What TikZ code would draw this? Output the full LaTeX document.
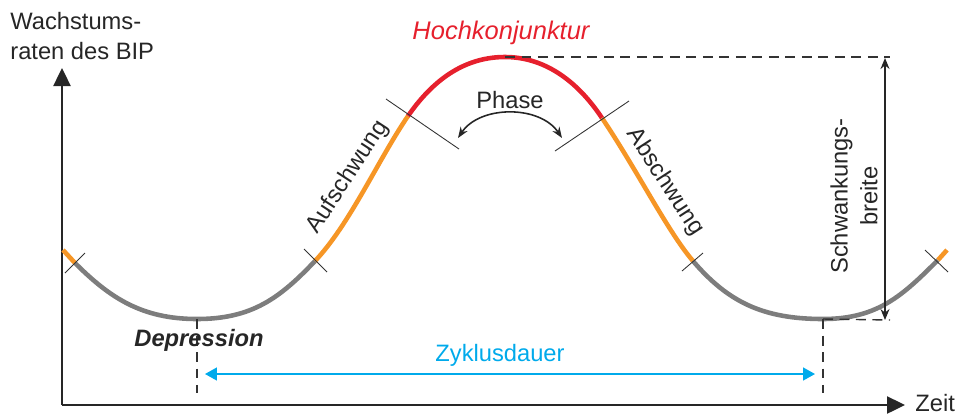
\documentclass[tikz,border=0pt]{standalone}
\usepackage{fontspec}
\setmainfont{Liberation Sans}
\usepackage{tikz}
\usetikzlibrary{arrows.meta}
\definecolor{upswing}{RGB}{246,150,38}
\definecolor{boomred}{RGB}{230,32,45}
\definecolor{troughgray}{RGB}{125,125,125}
\definecolor{cycleblue}{RGB}{0,170,235}
\newcommand{\lblsize}{\fontsize{13.5}{17}\selectfont}

\begin{document}
\begin{tikzpicture}[
    x=0.02cm, y=-0.02cm,
    every node/.style={font=\lblsize, text=black!85},
    curve/.style={line width=2.6pt},
    axis/.style={line width=1.4pt, black!85, -{Triangle[length=3.6mm, width=3.4mm]}},
    tick/.style={line width=0.5pt, black!80},
    guide/.style={line width=0.8pt, black!80, dash pattern=on 2mm off 1.3mm},
    span/.style={line width=0.8pt, black!85, {Stealth[length=2.2mm, width=1.8mm]}-{Stealth[length=2.2mm, width=1.8mm]}},
    cyclespan/.style={line width=0.9pt, cycleblue, {Triangle[length=2.4mm, width=2.6mm]}-{Triangle[length=2.4mm, width=2.6mm]}}
  ]
  \useasboundingbox (0,0) rectangle (961,414);

  % axes
  \coordinate (O) at (62,405);
  \coordinate (ytop) at (62,68);
  \coordinate (xend) at (905,405);
  \draw[axis] (O) -- (ytop);
  \draw[axis] (O) -- (xend);
  \node[anchor=north west, align=left, inner sep=0pt] (ylab) at (10,12) {Wachstums-\\raten des BIP};
  \node[anchor=west, inner sep=0pt] (xlab) at (915,403) {Zeit};

  % break points of the cycle
  \coordinate (c0) at (63,250);
  \coordinate (c1) at (75,263);
  \coordinate (dep) at (197,319);
  \coordinate (c2) at (315,261);
  \coordinate (c3) at (408,116);
  \coordinate (peak) at (505,57);
  \coordinate (c4) at (602,118);
  \coordinate (c5) at (693,261);
  \coordinate (dep2) at (823,319);
  \coordinate (c6) at (938,260);
  \coordinate (c7) at (947,250);

  \draw[curve, upswing] (c0) -- (c1);
  \draw[curve, troughgray] (c1) .. controls (110,298) and (142,319) .. (dep) .. controls (252,319) and (280,298) .. (c2);
  \draw[curve, upswing] (c2) .. controls (350,224) and (378,160) .. (c3);
  \draw[curve, boomred] (c3) .. controls (435,77) and (467,57) .. (peak) .. controls (543,57) and (576,79) .. (c4);
  \draw[curve, upswing] (c4) .. controls (637,170) and (668,232) .. (c5);
  \draw[curve, troughgray] (c5) .. controls (728,302) and (763,319) .. (dep2) .. controls (878,319) and (903,295) .. (c6);
  \draw[curve, upswing] (c6) -- (c7);

  \draw[tick] (c1) ++(-10,10) -- ++(20,-20);
  \draw[tick] (c2) ++(-11,-12) -- ++(23,23);
  \draw[tick] (c3) ++(-22,-17) -- ++(73,50);
  \draw[tick] (c4) ++(-47,33) -- ++(74,-50);
  \draw[tick] (c5) ++(-11,10) -- ++(21,-18);
  \draw[tick] (c6) ++(-13,-10) -- ++(23,22);

  % guides and spans
  \coordinate (depb) at (197,393);
  \coordinate (dep2b) at (823,393);
  \coordinate (lowr) at (890,320);
  \coordinate (topr) at (890,57);
  \draw[guide] (dep) -- (depb);
  \draw[guide] (dep2) -- (dep2b);
  \draw[guide] (dep2) -- (lowr);
  \draw[guide] (peak) -- (topr);

  \coordinate (sbt) at (885,58);
  \coordinate (sbb) at (885,320);
  \draw[span] (sbt) -- (sbb);
  \node[rotate=90, align=center] (sbl) at (854,196) {Schwankungs-\\breite};

  \coordinate (zd1) at (205,374);
  \coordinate (zd2) at (815,374);
  \draw[cyclespan] (zd1) -- (zd2);
  \node[text=cycleblue] (zdl) at (500,355) {Zyklusdauer};

  \coordinate (ph1) at (458,138);
  \coordinate (ph2) at (562,138);
  \draw[line width=0.9pt, black!85, {Stealth[length=2.2mm]}-{Stealth[length=2.2mm]}] (ph1) .. controls (480,105) and (540,105) .. (ph2);
  \node (phl) at (510,100) {Phase};

  \node[text=boomred, font=\fontsize{14.5}{17}\selectfont\itshape] (boom) at (501,33) {Hochkonjunktur};
  \node[font=\lblsize\bfseries\itshape] (deplab) at (199,340) {Depression};
  \node[rotate=57] (auf) at (348,177) {Aufschwung};
  \node[rotate=-57] (ab) at (665,182) {Abschwung};
\end{tikzpicture}
\end{document}
